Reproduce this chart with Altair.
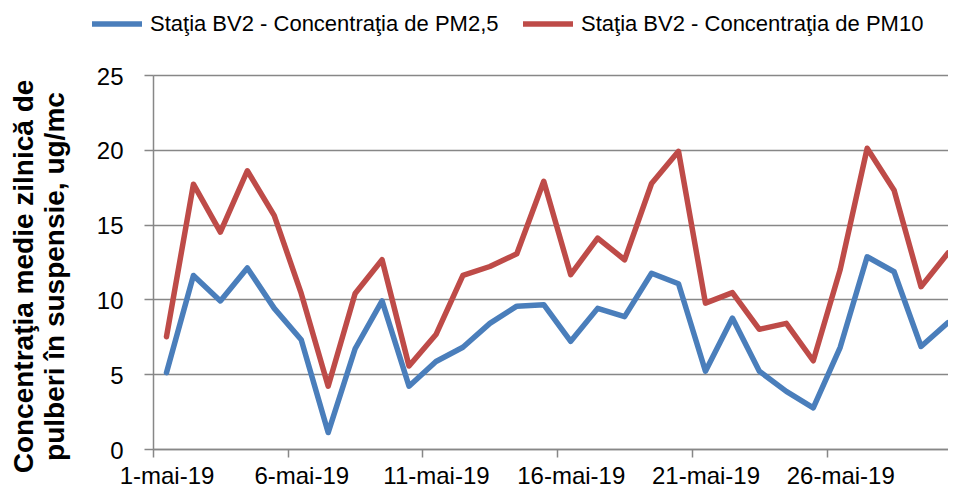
import altair as alt
import pandas as pd

days = list(range(1, 31))
pm25 = [5.1, 11.6, 9.9, 12.1, 9.4, 7.3, 1.1, 6.7, 9.9, 4.2,
        5.85, 6.8, 8.4, 9.55, 9.65, 7.2, 9.4, 8.85, 11.75, 11.05,
        5.2, 8.75, 5.2, 3.85, 2.75, 6.8, 12.85, 11.85, 6.85, 8.45]
pm10 = [7.5, 17.7, 14.5, 18.6, 15.6, 10.4, 4.2, 10.4, 12.65, 5.55,
        7.65, 11.6, 12.2, 13.05, 17.9, 11.65, 14.1, 12.65, 17.75, 19.9,
        9.75, 10.45, 8.0, 8.4, 5.9, 12.0, 20.1, 17.3, 10.85, 13.1]
series_names = ["Staţia BV2 - Concentraţia de PM2,5",
                "Staţia BV2 - Concentraţia de PM10"]
colors = ["#4A7EBB", "#BE4B48"]
x_tick_values = [0.5, 5.5, 10.5, 15.5, 20.5, 25.5]
y_tick_values = [0, 5, 10, 15, 20, 25]
y_title = ["Concentraţia medie zilnică de", "pulberi în suspensie, ug/mc"]

rows = []
for d, v in zip(days, pm25):
    rows.append({"day": d, "value": v, "series": series_names[0]})
for d, v in zip(days, pm10):
    rows.append({"day": d, "value": v, "series": series_names[1]})
df = pd.DataFrame(rows)

gray = "#878787"

chart = alt.Chart(df).mark_line(strokeWidth=5.5, strokeJoin="round", strokeCap="round").encode(
    x=alt.X("day:Q",
            scale=alt.Scale(domain=[0.5, 30], nice=False, zero=False),
            axis=alt.Axis(values=x_tick_values,
                          labelExpr="(datum.value + 0.5) + '-mai-19'",
                          labelOffset=13.5, grid=False, tickSize=8,
                          tickColor=gray, tickWidth=1.5,
                          domainColor=gray, domainWidth=1.5,
                          labelFontSize=24, labelPadding=7, labelColor="#000000",
                          labelFont="Liberation Sans", labelAlign="center",
                          labelFlush=False, labelOverlap=False),
            title=None),
    y=alt.Y("value:Q",
            scale=alt.Scale(domain=[0, 25], nice=False),
            axis=alt.Axis(values=y_tick_values, grid=True, gridColor=gray,
                          gridWidth=1.5, tickSize=9, tickColor=gray, tickWidth=1.5,
                          domainColor=gray, domainWidth=1.5,
                          labelFontSize=24, labelPadding=21, labelColor="#000000",
                          labelFont="Liberation Sans", labelOffset=2,
                          title=y_title, titleFont="Liberation Sans",
                          titleFontSize=28, titleFontWeight="bold",
                          titleColor="#000000", titleAngle=270,
                          titleAlign="center", titleBaseline="top",
                          titleX=-143, titleY=201, titleLineHeight=31)),
    color=alt.Color("series:N",
                    scale=alt.Scale(domain=series_names, range=colors),
                    legend=alt.Legend(orient="none", legendX=-64, legendY=-79,
                                      direction="horizontal", symbolType="stroke",
                                      symbolSize=2500, symbolStrokeWidth=5.5,
                                      labelFontSize=22, labelLimit=600,
                                      labelFont="Liberation Sans",
                                      labelColor="#000000",
                                      columnPadding=13, labelOffset=5, padding=0),
                    title=None),
).properties(
    width=795,
    height=374,
    autosize=alt.AutoSizeParams(type="none"),
    padding={"left": 145, "top": 67, "right": 0, "bottom": 42},
).configure_view(strokeWidth=0).configure(font="Liberation Sans")

chart.save("out.html", embed_options={"renderer": "svg", "actions": False})
